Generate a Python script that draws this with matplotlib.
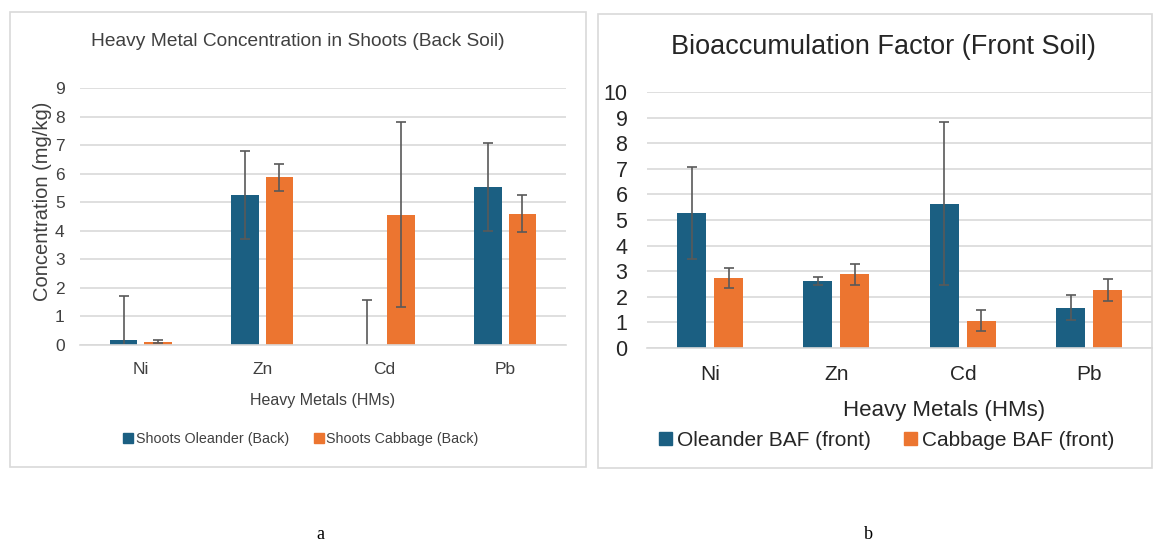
import matplotlib
matplotlib.use("Agg")
import matplotlib.pyplot as plt
import numpy as np
from matplotlib.patches import Rectangle, Patch

# Data
metals = ["Ni", "Zn", "Cd", "Pb"]

shoots_oleander = [0.16, 5.24, 0.0, 5.53]
shoots_oleander_err = [1.54, 1.54, 1.57, 1.54]
shoots_cabbage = [0.12, 5.88, 4.57, 4.60]
shoots_cabbage_err = [0.05, 0.47, 3.23, 0.64]

baf_oleander = [5.27, 2.62, 5.64, 1.57]
baf_oleander_err = [1.80, 0.15, 3.20, 0.49]
baf_cabbage = [2.74, 2.87, 1.06, 2.27]
baf_cabbage_err = [0.40, 0.42, 0.41, 0.43]

blue = "#1B5F82"
orange = "#EC7530"
err_col = "#595959"
grid_col = "#D9D9D9"

sans = ["Liberation Sans", "DejaVu Sans"]

fig = plt.figure(figsize=(11.53, 5.44), dpi=100)

# Panel frames
fig.patches.append(Rectangle((0.0087, 0.1415), 0.4996, 0.8364, transform=fig.transFigure,
                             fill=False, edgecolor=grid_col, linewidth=1.2))
fig.patches.append(Rectangle((0.5187, 0.1397), 0.4805, 0.8346, transform=fig.transFigure,
                             fill=False, edgecolor=grid_col, linewidth=1.2))


def bar_panel(ax, a_vals, a_err, b_vals, b_err, width, gap, ymax, xsize, ysize, tcolor):
    x = np.arange(len(metals))
    off = width / 2 + gap / 2
    err_kw = dict(ecolor=err_col, elinewidth=1.2, capsize=3.5, capthick=1.2)
    ax.bar(x - off, a_vals, width, color=blue, yerr=a_err, error_kw=err_kw, zorder=2)
    ax.bar(x + off, b_vals, width, color=orange, yerr=b_err, error_kw=err_kw, zorder=2)
    ax.set_xlim(-0.5, len(metals) - 0.5)
    ax.set_ylim(0, ymax)
    ax.set_yticks(range(0, ymax + 1))
    ax.set_xticks(x)
    ax.set_xticklabels(metals)
    ax.yaxis.grid(True, color=grid_col, linewidth=1.2)
    ax.set_axisbelow(True)
    for s in ["top", "right", "left"]:
        ax.spines[s].set_visible(False)
    ax.spines["bottom"].set_color(grid_col)
    ax.spines["bottom"].set_linewidth(1.2)
    ax.tick_params(length=0, colors=tcolor)
    for lab in ax.get_xticklabels():
        lab.set_family(sans)
        lab.set_fontsize(xsize)
    for lab in ax.get_yticklabels():
        lab.set_family(sans)
        lab.set_fontsize(ysize)


# Left panel (a)
axl = fig.add_axes([0.0694, 0.3658, 0.4215, 0.4724])
bar_panel(axl, shoots_oleander, shoots_oleander_err, shoots_cabbage, shoots_cabbage_err,
          0.225, 0.058, 9, 12.5, 12.5, "#404040")
axl.tick_params(axis="x", pad=12)
axl.tick_params(axis="y", pad=11)
fig.text(0.2585, 0.924, "Heavy Metal Concentration in Shoots (Back Soil)", ha="center", va="center",
         family=sans, fontsize=13.8, color="#404040")
fig.text(0.0365, 0.63, "Concentration (mg/kg)", rotation=90, ha="center", va="center",
         family=sans, fontsize=14.5, color="#404040")
fig.text(0.28, 0.264, "Heavy Metals (HMs)", ha="center", va="center",
         family=sans, fontsize=11.5, color="#404040")
leg_l = fig.legend([Patch(color=blue), Patch(color=orange)],
                   ["Shoots Oleander (Back)", "Shoots Cabbage (Back)"],
                   loc="center", bbox_to_anchor=(0.261, 0.193), ncol=2, frameon=False,
                   handlelength=0.7, handleheight=0.7, handletextpad=0.2, columnspacing=1.7,
                   prop={"family": sans, "size": 10.3})
for t in leg_l.get_texts():
    t.set_color("#404040")

# Right panel (b)
axr = fig.add_axes([0.561, 0.3604, 0.4385, 0.4706])
bar_panel(axr, baf_oleander, baf_oleander_err, baf_cabbage, baf_cabbage_err,
          0.23, 0.063, 10, 15, 15.5, "#262626")
axr.tick_params(axis="x", pad=12)
axr.tick_params(axis="y", pad=14)
fig.text(0.766, 0.914, "Bioaccumulation Factor (Front Soil)", ha="center", va="center",
         family=sans, fontsize=19.5, color="#262626")
fig.text(0.819, 0.246, "Heavy Metals (HMs)", ha="center", va="center",
         family=sans, fontsize=16, color="#262626")
leg_r = fig.legend([Patch(color=blue), Patch(color=orange)],
                   ["Oleander BAF (front)", "Cabbage BAF (front)"],
                   loc="center", bbox_to_anchor=(0.769, 0.191), ncol=2, frameon=False,
                   handlelength=0.6, handleheight=0.6, handletextpad=0.25, columnspacing=1.6,
                   prop={"family": sans, "size": 15})
for t in leg_r.get_texts():
    t.set_color("#262626")

# Panel captions
fig.text(0.2775, 0.018, "a", ha="center", va="center", family="Liberation Serif", fontsize=13)
fig.text(0.7528, 0.018, "b", ha="center", va="center", family="Liberation Serif", fontsize=13)

fig.savefig("out.png", dpi=100, facecolor="white")
